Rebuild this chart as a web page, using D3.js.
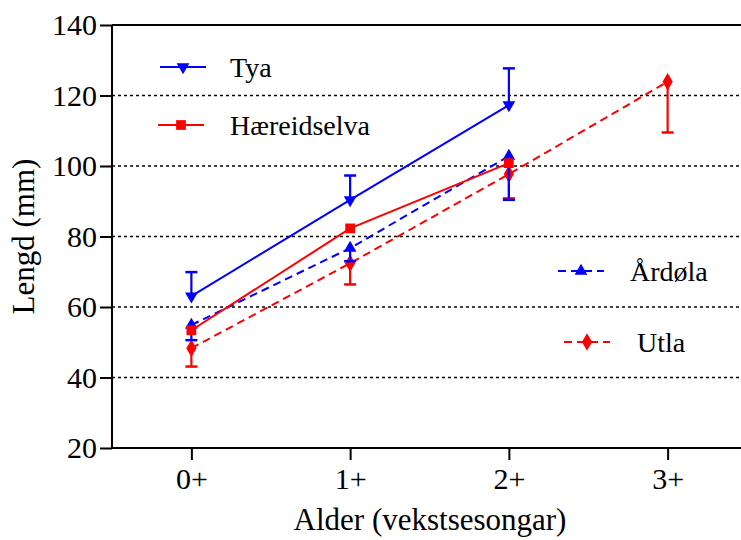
<!DOCTYPE html>
<html>
<head>
<meta charset="utf-8">
<script src="https://cdn.jsdelivr.net/npm/d3@7"></script>
<style>
  html, body { margin: 0; padding: 0; background: #fff; }
  svg { display: block; }
  text { font-family: "Liberation Serif", "Times New Roman", serif; fill: #000; }
</style>
</head>
<body>
<svg id="chart" width="741" height="540"></svg>
<script>
// Age classes (growth seasons)
const ages = ["0+", "1+", "2+", "3+"];
const yTicks = [20, 40, 60, 80, 100, 120, 140];
const gridValues = [40, 60, 80, 100, 120];

// Mean length (mm) per river and age class
const tyaMean = [63.1, 90.4, 117.3];
const tyaErrUp = [69.9, 97.3, 127.7];

const haereidselvaMean = [53.4, 82.3, 100.8];

const ardolaMean = [54.9, 76.7, 102.8];
const ardolaErrDown = [50.6, 73.0, 90.4];

const utlaMean = [48.3, 72.4, 97.7, 123.9];
const utlaErrDown = [43.1, 66.4, 90.8, 109.5];

const svg = d3.select("#chart");

const x = d3.scaleLinear().domain([-0.5, 3.5]).range([112, 747]);
const y = d3.scaleLinear().domain([20, 140]).range([448, 25]);

// Dotted horizontal gridlines
svg.append("g").selectAll("line").data(gridValues).join("line")
  .attr("x1", x(-0.5)).attr("x2", x(3.5))
  .attr("y1", d => y(d)).attr("y2", d => y(d))
  .attr("stroke", "#000").attr("stroke-width", 1.6)
  .attr("stroke-dasharray", "3,3");

// Solid top frame line
svg.append("line")
  .attr("x1", x(-0.5)).attr("x2", x(3.5))
  .attr("y1", y(140)).attr("y2", y(140))
  .attr("stroke", "#000").attr("stroke-width", 1.8);

// Axes
const yAxis = d3.axisLeft(y).tickValues(yTicks).tickSize(12).tickPadding(3);
const gy = svg.append("g").attr("transform", `translate(${x(-0.5)},0)`).call(yAxis);
const xAxis = d3.axisBottom(x).tickValues([0, 1, 2, 3]).tickFormat(i => ages[i]).tickSize(12).tickPadding(8);
const gx = svg.append("g").attr("transform", `translate(0,${y(20)})`).call(xAxis);
[gy, gx].forEach(g => {
  g.attr("font-family", null);
  g.select(".domain").attr("stroke", "#000").attr("stroke-width", 2);
  g.selectAll(".tick line").attr("stroke", "#000").attr("stroke-width", 2);
  g.selectAll(".tick text").style("font-family", '"Liberation Serif", serif').style("font-size", "30px").attr("fill", "#000");
});
gx.select(".domain").attr("d", `M${x(-0.5)},0H${x(3.5)}`);
gy.select(".domain").attr("d", `M0,${y(20)}V${y(140)}`);

// Axis titles
svg.append("text")
  .attr("transform", `translate(34,${(y(20) + y(140)) / 2}) rotate(-90)`)
  .attr("text-anchor", "middle")
  .style("font-size", "31px")
  .text("Lengd (mm)");
svg.append("text")
  .attr("x", 430).attr("y", 530)
  .attr("text-anchor", "middle")
  .style("font-size", "31px")
  .text("Alder (vekstsesongar)");

// Marker shapes
const sym = {
  down: d3.symbol().type(d3.symbolTriangle).size(70),
  up: d3.symbol().type(d3.symbolTriangle).size(70),
  square: d3.symbol().type(d3.symbolSquare).size(95),
  diamond: d3.symbol().type(d3.symbolDiamond).size(90)
};
function marker(g, kind, cx, cy, color) {
  const p = g.append("path").attr("d", sym[kind]()).attr("fill", color);
  const rot = kind === "down" ? " rotate(180)" : "";
  p.attr("transform", `translate(${cx},${cy})${rot}`);
}

function errorBars(g, means, ends, color) {
  means.forEach((m, i) => {
    if (ends[i] == null) return;
    g.append("line")
      .attr("x1", x(i)).attr("x2", x(i))
      .attr("y1", y(m)).attr("y2", y(ends[i]))
      .attr("stroke", color).attr("stroke-width", 2.2);
    g.append("line")
      .attr("x1", x(i) - 6).attr("x2", x(i) + 6)
      .attr("y1", y(ends[i])).attr("y2", y(ends[i]))
      .attr("stroke", color).attr("stroke-width", 2.5);
  });
}

const line = d3.line().x((d, i) => x(i)).y(d => y(d));

function series(means, errEnds, color, dash, kind) {
  const g = svg.append("g");
  if (errEnds) errorBars(g, means, errEnds, color);
  g.append("path").datum(means)
    .attr("d", line).attr("fill", "none")
    .attr("stroke", color).attr("stroke-width", 2)
    .attr("stroke-dasharray", dash);
  means.forEach((m, i) => marker(g, kind, x(i), y(m), color));
}

const BLUE = "#0000ff", RED = "#ff0000";
series(utlaMean, utlaErrDown, RED, "8,5", "diamond");
series(ardolaMean, ardolaErrDown, BLUE, "8,5", "up");
series(haereidselvaMean, null, RED, null, "square");
series(tyaMean, tyaErrUp, BLUE, null, "down");

// Legend entries
const legend = [
  { name: "Tya", color: BLUE, dash: null, kind: "down", x0: 160, x1: 206, ty: 67, tx: 230 },
  { name: "Hæreidselva", color: RED, dash: null, kind: "square", x0: 158, x1: 204, ty: 125, tx: 230 },
  { name: "Årdøla", color: BLUE, dash: "8,5", kind: "up", x0: 558, x1: 604, ty: 271, tx: 630 },
  { name: "Utla", color: RED, dash: "8,5", kind: "diamond", x0: 564, x1: 610, ty: 342, tx: 637 }
];
const lg = svg.append("g");
legend.forEach(d => {
  lg.append("line")
    .attr("x1", d.x0).attr("x2", d.x1).attr("y1", d.ty).attr("y2", d.ty)
    .attr("stroke", d.color).attr("stroke-width", 2)
    .attr("stroke-dasharray", d.dash);
  marker(lg, d.kind, (d.x0 + d.x1) / 2, d.ty, d.color);
  lg.append("text")
    .attr("x", d.tx).attr("y", d.ty + 10)
    .style("font-size", "28px")
    .text(d.name);
});
</script>
</body>
</html>
